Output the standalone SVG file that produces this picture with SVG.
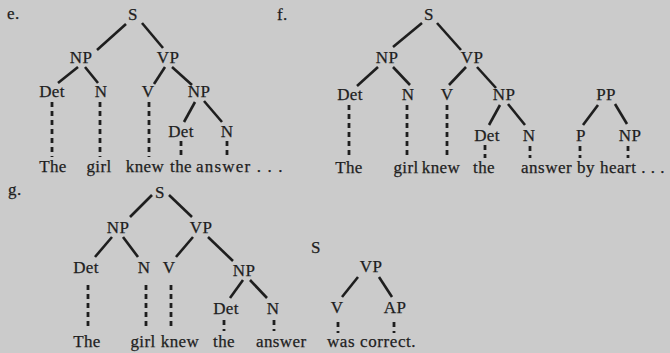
<svg xmlns="http://www.w3.org/2000/svg" width="670" height="353" viewBox="0 0 670 353">
<style>
.t{font-family:"Liberation Serif","Times New Roman",serif;font-size:17px;fill:#1e1e1e;stroke:#1e1e1e;stroke-width:0.25;letter-spacing:0.4px;text-anchor:middle}
.s{text-anchor:start}
.e{stroke:#1e1e1e;stroke-width:2.6;fill:none}
.d{stroke:#1e1e1e;stroke-width:2.8;stroke-dasharray:5 4;fill:none}
</style>
<rect width="670" height="353" fill="#cbcbcb"/>
<g id="labels">
<text class="t s" x="7" y="19">e.</text>
<text class="t s" x="277" y="20">f.</text>
<text class="t s" x="8" y="195">g.</text>
</g>
<g id="tree-e">
<g id="e-S"><text class="t" x="133" y="20">S</text></g>
<g id="e-NP"><text class="t" x="81" y="63">NP</text></g>
<g id="e-VP"><text class="t" x="168" y="63">VP</text></g>
<g id="e-Det"><text class="t" x="52" y="97">Det</text></g>
<g id="e-N"><text class="t" x="101" y="97">N</text></g>
<g id="e-V"><text class="t" x="148" y="97">V</text></g>
<g id="e-NP2"><text class="t" x="199" y="97">NP</text></g>
<g id="e-Det2"><text class="t" x="181" y="137">Det</text></g>
<g id="e-N2"><text class="t" x="227" y="137">N</text></g>
<g id="e-w1"><text class="t" x="53" y="172">The</text></g>
<g id="e-w2"><text class="t" x="99" y="172">girl</text></g>
<g id="e-w3"><text class="t" x="145" y="172">knew</text></g>
<g id="e-w4"><text class="t" x="181" y="172">the</text></g>
<g id="e-w5"><text class="t s" x="196" y="172" textLength="87" lengthAdjust="spacing">answer . . .</text></g>
</g>
<g id="tree-f">
<g id="f-S"><text class="t" x="429" y="20">S</text></g>
<g id="f-NP"><text class="t" x="387" y="63">NP</text></g>
<g id="f-VP"><text class="t" x="472" y="63">VP</text></g>
<g id="f-Det"><text class="t" x="350" y="100">Det</text></g>
<g id="f-N"><text class="t" x="408" y="100">N</text></g>
<g id="f-V"><text class="t" x="447" y="100">V</text></g>
<g id="f-NP2"><text class="t" x="504" y="100">NP</text></g>
<g id="f-PP"><text class="t" x="606" y="100">PP</text></g>
<g id="f-Det2"><text class="t" x="487" y="141">Det</text></g>
<g id="f-N2"><text class="t" x="529" y="141">N</text></g>
<g id="f-P"><text class="t" x="581" y="141">P</text></g>
<g id="f-NP3"><text class="t" x="630" y="141">NP</text></g>
<g id="f-w1"><text class="t" x="349" y="173">The</text></g>
<g id="f-w2"><text class="t" x="406" y="173">girl</text></g>
<g id="f-w3"><text class="t" x="441" y="173">knew</text></g>
<g id="f-w4"><text class="t" x="484" y="173">the</text></g>
<g id="f-w5"><text class="t s" x="521" y="173" textLength="144" lengthAdjust="spacing">answer by heart . . .</text></g>
</g>
<g id="tree-g">
<g id="g-S"><text class="t" x="160" y="198">S</text></g>
<g id="g-NP"><text class="t" x="118" y="233">NP</text></g>
<g id="g-VP"><text class="t" x="201" y="233">VP</text></g>
<g id="g-Det"><text class="t" x="86" y="273">Det</text></g>
<g id="g-N"><text class="t" x="144" y="273">N</text></g>
<g id="g-V"><text class="t" x="169" y="273">V</text></g>
<g id="g-NP2"><text class="t" x="244" y="276">NP</text></g>
<g id="g-Det2"><text class="t" x="226" y="314">Det</text></g>
<g id="g-N2"><text class="t" x="273" y="314">N</text></g>
<g id="g-S2"><text class="t" x="316" y="253">S</text></g>
<g id="g-VP2"><text class="t" x="371" y="272">VP</text></g>
<g id="g-V2"><text class="t" x="337" y="313">V</text></g>
<g id="g-AP"><text class="t" x="395" y="313">AP</text></g>
<g id="g-w1"><text class="t" x="87" y="347">The</text></g>
<g id="g-w2"><text class="t" x="143" y="347">girl</text></g>
<g id="g-w3"><text class="t" x="180" y="347">knew</text></g>
<g id="g-w4"><text class="t" x="224" y="347">the</text></g>
<g id="g-w5"><text class="t s" x="256" y="347">answer</text></g>
<g id="g-w6"><text class="t s" x="327" y="347" textLength="89" lengthAdjust="spacing">was correct.</text></g>
</g>
<g id="connectors">
<line class="e" x1="126" y1="24" x2="97" y2="50"/>
<line class="e" x1="142" y1="23" x2="163" y2="48"/>
<line class="e" x1="78" y1="67" x2="58" y2="83"/>
<line class="e" x1="85" y1="67" x2="98" y2="83"/>
<line class="e" x1="165" y1="67" x2="154" y2="84"/>
<line class="e" x1="172" y1="67" x2="192" y2="85"/>
<line class="e" x1="195" y1="102" x2="184" y2="122"/>
<line class="e" x1="204" y1="101" x2="222" y2="122"/>
<line class="d" x1="52" y1="102" x2="52" y2="157"/>
<line class="d" x1="100" y1="102" x2="100" y2="157"/>
<line class="d" x1="149" y1="102" x2="149" y2="157"/>
<line class="d" x1="181" y1="141" x2="181" y2="157"/>
<line class="d" x1="227" y1="141" x2="227" y2="157"/>
<line class="e" x1="422" y1="23" x2="393" y2="47"/>
<line class="e" x1="437" y1="23" x2="461" y2="50"/>
<line class="e" x1="378" y1="67" x2="357" y2="86"/>
<line class="e" x1="393" y1="67" x2="410" y2="85"/>
<line class="e" x1="466" y1="67" x2="449" y2="85"/>
<line class="e" x1="477" y1="67" x2="496" y2="88"/>
<line class="e" x1="500" y1="105" x2="489" y2="125"/>
<line class="e" x1="508" y1="104" x2="525" y2="125"/>
<line class="e" x1="598" y1="105" x2="583" y2="125"/>
<line class="e" x1="615" y1="104" x2="627" y2="124"/>
<line class="d" x1="349" y1="105" x2="349" y2="158"/>
<line class="d" x1="407" y1="105" x2="407" y2="158"/>
<line class="d" x1="447" y1="105" x2="447" y2="158"/>
<line class="d" x1="485" y1="145" x2="485" y2="158"/>
<line class="d" x1="530" y1="146" x2="530" y2="158"/>
<line class="d" x1="580" y1="146" x2="580" y2="158"/>
<line class="d" x1="628" y1="146" x2="628" y2="158"/>
<line class="e" x1="152" y1="195" x2="130" y2="217"/>
<line class="e" x1="169" y1="195" x2="192" y2="217"/>
<line class="e" x1="112" y1="237" x2="95" y2="257"/>
<line class="e" x1="123" y1="237" x2="138" y2="257"/>
<line class="e" x1="193" y1="237" x2="176" y2="257"/>
<line class="e" x1="208" y1="237" x2="233" y2="261"/>
<line class="e" x1="243" y1="280" x2="230" y2="298"/>
<line class="e" x1="250" y1="280" x2="267" y2="298"/>
<line class="e" x1="358" y1="277" x2="342" y2="297"/>
<line class="e" x1="379" y1="277" x2="392" y2="297"/>
<line class="d" x1="88" y1="285" x2="88" y2="330"/>
<line class="d" x1="146" y1="285" x2="146" y2="330"/>
<line class="d" x1="171" y1="285" x2="171" y2="330"/>
<line class="d" x1="224" y1="320" x2="224" y2="331"/>
<line class="d" x1="274" y1="320" x2="274" y2="331"/>
<line class="d" x1="338" y1="322" x2="338" y2="333"/>
<line class="d" x1="394" y1="322" x2="394" y2="333"/>
</g>
</svg>
